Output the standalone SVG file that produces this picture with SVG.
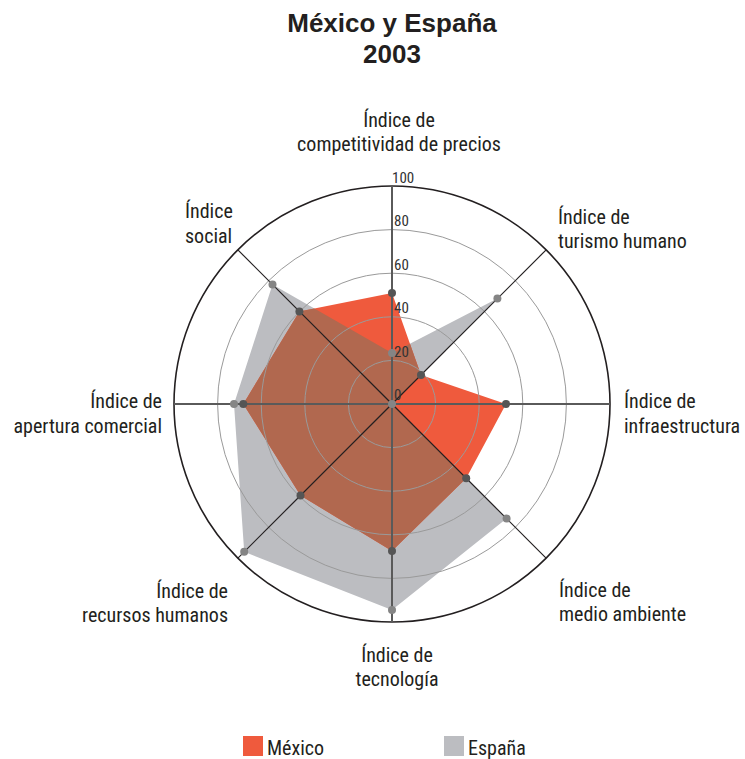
<svg xmlns="http://www.w3.org/2000/svg" width="745" height="759" viewBox="0 0 745 759">
<style>
.lbl{font-family:'Liberation Sans Narrow','Roboto Condensed','DejaVu Sans Condensed','Liberation Sans',sans-serif;font-size:20px;fill:#231f20}
.tick{font-family:'Liberation Sans Narrow','Roboto Condensed','DejaVu Sans Condensed','Liberation Sans',sans-serif;font-size:15px;fill:#333}
.title{font-family:'Liberation Sans',Arial,sans-serif;font-size:26px;font-weight:bold;fill:#231f20}
.grid{fill:none;stroke:#9a9a9a;stroke-width:1}
.diag{stroke:#231f20;stroke-width:1.2}
.main{stroke:#5a5a5a;stroke-width:2}
.mx{fill:#555}
.es{fill:#858585}
</style>
<defs>
<clipPath id="mxClip"><polygon points="392,293 421,375 506,404 466.2,478.2 392,551 300.5,495.5 243.3,404 299.4,311.4"/></clipPath>
</defs>
<rect width="745" height="759" fill="#fff"/>
<g id="title">
<text class="title" x="392" y="32" text-anchor="middle">México y España</text>
<text class="title" x="392" y="63" text-anchor="middle">2003</text>
</g>
<g id="series">
<polygon id="espana-area" fill="#bcbdc1" points="392,353 497.4,298.6 392,404 506.6,518.6 392,610 244.2,551.8 234,404 272.5,284.5"/>
<polygon id="mexico-area" fill="#ef5a3d" points="392,293 421,375 506,404 466.2,478.2 392,551 300.5,495.5 243.3,404 299.4,311.4"/>
<polygon id="overlap" fill="#b1684f" clip-path="url(#mxClip)" points="392,353 497.4,298.6 392,404 506.6,518.6 392,610 244.2,551.8 234,404 272.5,284.5"/>
</g>
<g id="grid">
<circle class="grid" cx="392" cy="404" r="43.6"/>
<circle class="grid" cx="392" cy="404" r="87.2"/>
<circle class="grid" cx="392" cy="404" r="130.8"/>
<circle class="grid" cx="392" cy="404" r="174.4"/>
<circle cx="392" cy="404" r="218" fill="none" stroke="#231f20" stroke-width="1.6"/>
</g>
<g id="axes">
<line class="diag" x1="392" y1="404" x2="546.1" y2="249.9"/>
<line class="diag" x1="392" y1="404" x2="546.1" y2="558.1"/>
<line class="diag" x1="392" y1="404" x2="237.9" y2="558.1"/>
<line class="diag" x1="392" y1="404" x2="237.9" y2="249.9"/>
<line class="main" x1="392" y1="186" x2="392" y2="622"/>
<line class="main" x1="174" y1="404" x2="610" y2="404"/>
</g>
<g id="ticks">
<text class="tick" x="394" y="400">0</text>
<text class="tick" x="394" y="357">20</text>
<text class="tick" x="394" y="313">40</text>
<text class="tick" x="394" y="270">60</text>
<text class="tick" x="394" y="226">80</text>
<text class="tick" x="392" y="183">100</text>
</g>
<g id="points">
<circle class="es" cx="392" cy="353" r="4"/>
<circle class="es" cx="497.4" cy="298.6" r="4"/>
<circle class="es" cx="392" cy="404" r="4"/>
<circle class="es" cx="506.6" cy="518.6" r="4"/>
<circle class="es" cx="392" cy="610" r="4"/>
<circle class="es" cx="244.2" cy="551.8" r="4"/>
<circle class="es" cx="234" cy="404" r="4"/>
<circle class="es" cx="272.5" cy="284.5" r="4"/>
<circle class="mx" cx="392" cy="293" r="4"/>
<circle class="mx" cx="421" cy="375" r="4"/>
<circle class="mx" cx="506" cy="404" r="4"/>
<circle class="mx" cx="466.2" cy="478.2" r="4"/>
<circle class="mx" cx="392" cy="551" r="4"/>
<circle class="mx" cx="300.5" cy="495.5" r="4"/>
<circle class="mx" cx="243.3" cy="404" r="4"/>
<circle class="mx" cx="299.4" cy="311.4" r="4"/>
</g>
<g id="label-competitividad">
<text class="lbl" x="399" y="127" text-anchor="middle">Índice de</text>
<text class="lbl" x="399" y="151" text-anchor="middle">competitividad de precios</text>
</g>
<g id="label-turismo">
<text class="lbl" x="558" y="224">Índice de</text>
<text class="lbl" x="558" y="248">turismo humano</text>
</g>
<g id="label-infraestructura">
<text class="lbl" x="624" y="408">Índice de</text>
<text class="lbl" x="624" y="433">infraestructura</text>
</g>
<g id="label-medio">
<text class="lbl" x="559" y="597">Índice de</text>
<text class="lbl" x="559" y="621">medio ambiente</text>
</g>
<g id="label-tecnologia">
<text class="lbl" x="397" y="662" text-anchor="middle">Índice de</text>
<text class="lbl" x="397" y="686" text-anchor="middle">tecnología</text>
</g>
<g id="label-recursos">
<text class="lbl" x="228" y="598" text-anchor="end">Índice de</text>
<text class="lbl" x="228" y="622" text-anchor="end">recursos humanos</text>
</g>
<g id="label-apertura">
<text class="lbl" x="162" y="408" text-anchor="end">Índice de</text>
<text class="lbl" x="162" y="433" text-anchor="end">apertura comercial</text>
</g>
<g id="label-social">
<text class="lbl" x="185" y="218">Índice</text>
<text class="lbl" x="185" y="243">social</text>
</g>
<g id="legend">
<rect x="243" y="736" width="20" height="20" fill="#ef5a3d"/>
<text class="lbl" x="267" y="755">México</text>
<rect x="444" y="736" width="20" height="20" fill="#bcbdc1"/>
<text class="lbl" x="468" y="755">España</text>
</g>
</svg>
